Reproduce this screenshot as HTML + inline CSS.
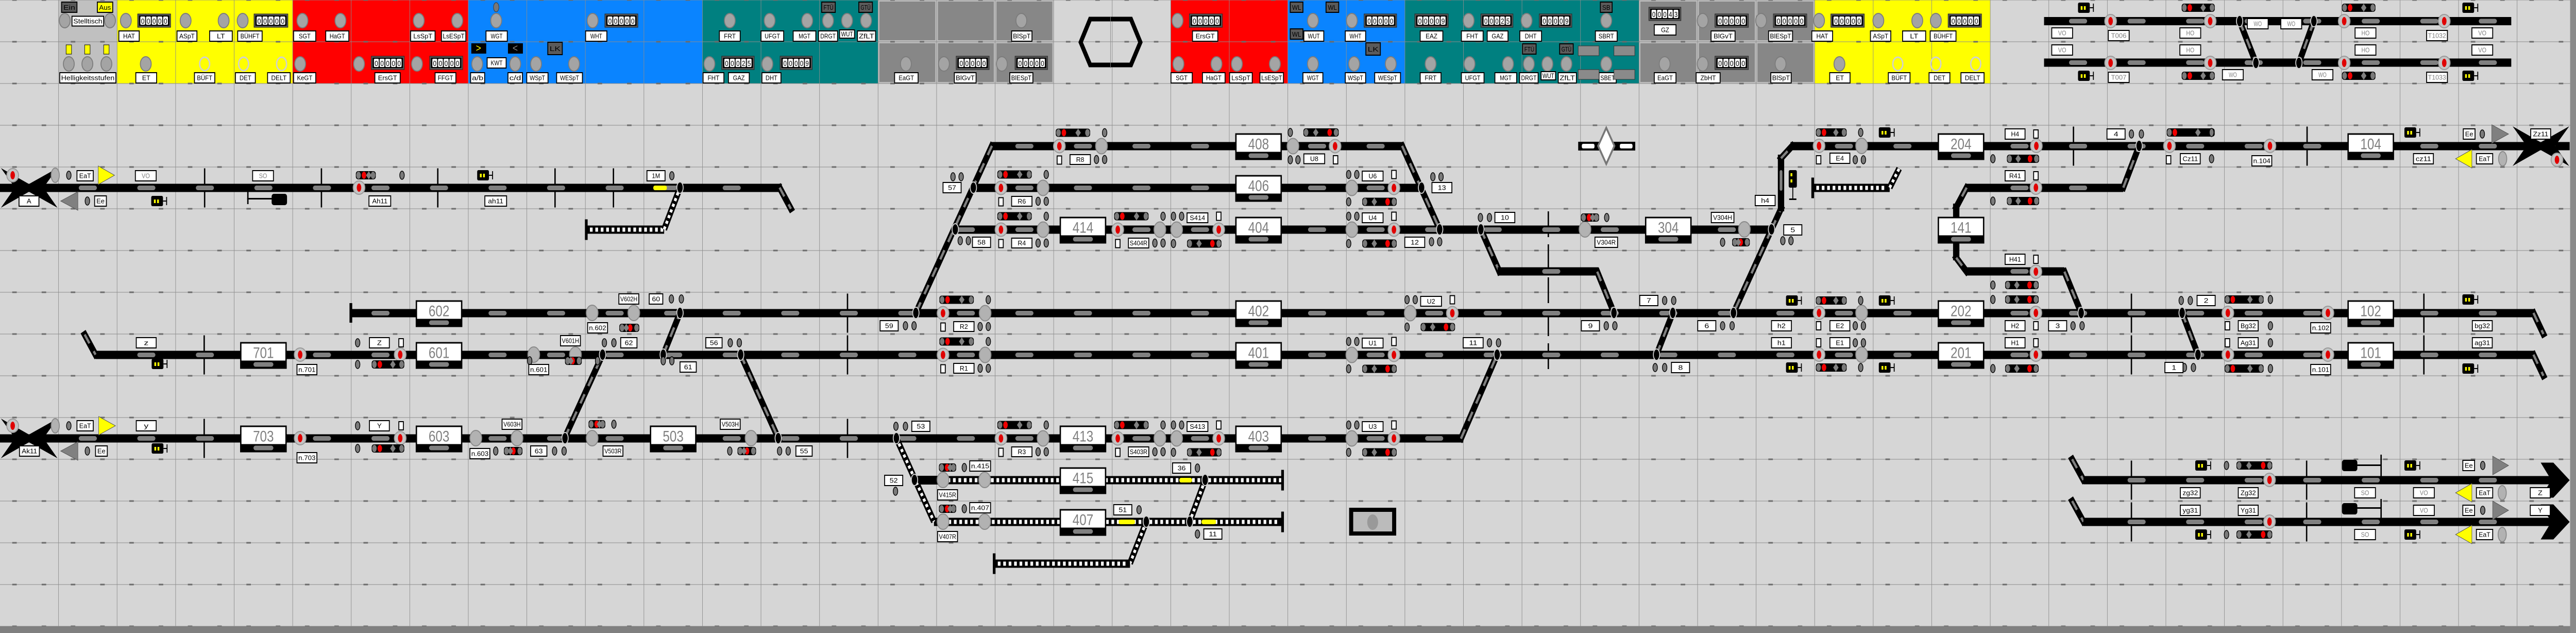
<!DOCTYPE html>
<html><head><meta charset="utf-8">
<style>html,body{margin:0;padding:0;background:#d6d6d6;width:100%;height:100%;overflow:hidden}svg{display:block;position:fixed;left:0;top:0;width:100vw;height:100vh}</style>
</head><body>
<svg id="s" xmlns="http://www.w3.org/2000/svg" viewBox="0 0 5690 1228" preserveAspectRatio="none" font-family="Liberation Sans, sans-serif"></svg>
<script>
const W=129.3,H=81,cx=c=>c*W+W/2,yc=r=>r*H+40.5;
let o=[];
const P=s=>o.push(s);
const R=(x,y,w,h,f,e='')=>P(`<rect x="${x}" y="${y}" width="${w}" height="${h}" fill="${f}" ${e}/>`);
const T=(x,y,t,sz,col,len,anchor='middle',fam='')=>P(`<text x="${x}" y="${y}" font-size="${sz}" fill="${col}" text-anchor="${anchor}" ${len?`textLength="${len}" lengthAdjust="spacingAndGlyphs"`:''} ${fam}>${t}</text>`);
R(0,0,5690,1228,'#d6d6d6');
const pan=[[1,1,'#c0c0c0'],[2,4,'#ffff00'],[5,7,'#ff0000'],[8,11,'#0a84ff'],[12,14,'#008080'],[20,21,'#ff0000'],[22,23,'#0a84ff'],[24,27,'#008080'],[31,33,'#ffff00']];
pan.forEach(p=>R(p[0]*W,0,(p[1]-p[0]+1)*W,162,p[2]));
[15,16,17,28,29,30].forEach(c=>{for(let r=0;r<2;r++){R(c*W,r*81,W,81,'#bdbdbd');R(c*W+3,r*81+3,W-6,75,'#878787');}});
for(let c=1;c<44;c++)R(c*W-0.5,0,1,1215,'#8c8c8c');
for(let r=0;r<=15;r++){R(0,r*H-0.5,5690,1,'#8c8c8c');for(let c=0;c<44;c++){R(c*W+27,r*H-1.5,10,3,'#6c6c6c');R(c*W+92,r*H-1.5,10,3,'#6c6c6c');}}
R(0,1215,5690,13,'#808080');R(5677,0,13,1228,'#8a8a8a');
const oval=(x,y,hol)=>P(hol?`<ellipse cx="${x}" cy="${y}" rx="11" ry="13" fill="none" stroke="#d0d0d0" stroke-width="3"/>`:`<ellipse cx="${x}" cy="${y}" rx="12" ry="14" fill="#a4a4a4" stroke="#7c7c7c" stroke-width="2"/>`);
const lb=(x,y,t,w=44,h=19,col='#000',fs=13)=>{R(x-w/2,y-h/2,w,h,'#fff','stroke="#000" stroke-width="2"');T(x,y+fs*0.36,t,fs,col,Math.min(w-6,t.length*8+2));};
const dk=(x,y,t,w=30,h=20,f='#5a5a5a',tc='#000')=>{R(x-w/2,y-h/2,w,h,f,'stroke="#000" stroke-width="2"');T(x,y+5,t,13,tc,w-8);};
const ctr=(x1,x2,y,t='00000')=>{R(x1,y-13,x2-x1,26,'#555','stroke="#222" stroke-width="1"');R(x1+3,y-10,x2-x1-6,20,'#000');const n=t.length,dw=(x2-x1-10)/n;for(let i=0;i<n;i++){R(x1+5+i*dw+1,y-8,dw-2,16,'#fff','rx="2"');T(x1+5+i*dw+dw/2,y+6,t[i],15,'#000',dw-5);}};
[143,243,278,410,494,536,668,752,925,1010,1096,1309,1612,1700,1783,1829,1871,1913,2256,2601,2900,2986,3244,3372,3548,3761,3890,4018,4149,4235,4276].forEach(x=>oval(x,40));
[152,193,235,322,663,793,921,1054,1138,1184,1268,1567,1695,2001,2085,2213,2603,2687,2732,2816,2900,2991,3072,3160,3246,3331,3377,3418,3460,3548,3677,3761,3933,4063].forEach(x=>oval(x,124));
[452,538,622,4192,4276,4364].forEach(x=>oval(x,124,1));
[[304,377],[561,636],[1336,1409],[2627,2700,'00000'],[3013,3085],[3125,3199,'00009'],[3271,3342,'00025'],[3400,3472,'00009'],[3788,3862],[3917,3991],[4044,4118],[4303,4377]].forEach(c=>ctr(c[0],c[1],40,c[2]||'00000'));
ctr(3642,3713,27,'00043');
[[820,893],[949,1022],[1594,1666,'00025'],[1723,1794,'00009'],[2112,2185],[2242,2314],[3788,3862]].forEach(c=>ctr(c[0],c[1],122,c[2]||'00000'));
lb(194,41,'Stelltisch',70,19);
[[285,'HAT',45],[413,'ASpT',44],[488,'LT',50],[552,'BÜHFT',54],[673,'SGT',49],[745,'HaGT',51],[934,'LsSpT',54],[1002,'LsESpT',54],[1097,'WGT',47],[1317,'WHT',47],[1612,'FRT',46],[1706,'UFGT',50],[1777,'MGT',50],[1829,'DRGT',42],[1914,'ZfLT',40],[2257,'BlSpT',45],[2662,'ErsGT',56],[2902,'WUT',44],[2994,'WHT',45],[3162,'EAZ',50],[3252,'FHT',48],[3308,'GAZ',46],[3381,'DHT',48],[3548,'SBRT',48],[3806,'BlGvT',53],[3933,'BlESpT',53],[4025,'HAT',46],[4154,'ASpT',45],[4228,'LT',51],[4292,'BÜHFT',57]].forEach(l=>lb(l[0],70,l[1],l[2],20));
lb(1871,66,'WUT',33,16);lb(3678,58,'GZ',48,20);
[[194,'Helligkeitsstufen',124],[323,'ET',46],[452,'BÜFT',45],[542,'DET',44],[616,'DELT',50],[673,'KeGT',49],[856,'ErsGT',56],[984,'FFGT',46],[1055,'a/b',31],[1138,'c/d',32],[1187,'WSpT',47],[1258,'WESpT',57],[1576,'FHT',46],[1632,'GAZ',46],[1704,'DHT',42],[2002,'EaGT',52],[2132,'BlGvT',48],[2256,'BlESpT',51],[2610,'SGT',47],[2681,'HaGT',50],[2741,'LsSpT',50],[2809,'LsESpT',52],[2900,'WGT',44],[2994,'WSpT',45],[3065,'WESpT',57],[3160,'FRT',46],[3253,'UFGT',50],[3326,'MGT',48],[3377,'DRGT',41],[3462,'ZfLT',40],[3678,'EaGT',48],[3773,'ZbHT',53],[3934,'BlSpT',45],[4064,'ET',45],[4195,'BÜFT',48],[4284,'DET',46],[4357,'DELT',51]].forEach(l=>lb(l[0],151,l[1],l[2],20));
lb(1097,122,'KWT',42,20);lb(3420,147,'WUT',32,16);lb(3551,151,'SBET',38,20);
dk(153,14,'Ein',34);dk(232,14,'Aus',34,20,'#ffff00');dk(1830,14,'FTÜ',30);dk(1912,14,'GTÜ',30);dk(3378,95,'FTÜ',30);dk(3460,95,'GTÜ',30);dk(1226,94,'LK',32,24);dk(3033,95,'LK',32,24);dk(3548,14,'SB',26);dk(2864,14,'WL',28);dk(2943,14,'WL',28);dk(2864,66,'WL',28);
R(1041,84,33,20,'#000');T(1057,100,'&gt;',20,'#ffff00');R(1122,84,33,20,'#000');T(1138,100,'&lt;',20,'#888');
[152,193,235].forEach(x=>R(x-6,87,12,18,'#ffff00','stroke="#000" stroke-width="1"'));
[[3486,89],[3565,89],[3486,135],[3565,135]].forEach(q=>R(q[0],q[1],46,19,'#8a8a8a','stroke="#333" stroke-width="1"'));
P(`<ellipse cx="1096" cy="14" rx="6" ry="9" fill="#777" stroke="#333"/>`);
P(`<polygon points="2408,37 2498,37 2519,82 2498,126 2408,126 2387,82" fill="none" stroke="#000" stroke-width="9"/>`);
P(`<line x1="2453" y1="32" x2="2453" y2="132" stroke="#888" stroke-width="1"/>`);
const sl=(x,y)=>R(x-20,y-4.5,40,9,'#808080','rx="4.5"');
const tr=(x1,x2,r,y)=>{y=y??yc(r);R(x1,y-8,x2-x1,16,'#000');for(let c=0;c<44;c++){const X=cx(c);if(X>x1+20&&X<x2-20)sl(X,y);}};
const dg=(x1,y1,x2,y2)=>{P(`<line x1="${x1}" y1="${y1}" x2="${x2}" y2="${y2}" stroke="#000" stroke-width="13" stroke-linecap="square"/>`);P(`<line x1="${x1}" y1="${y1}" x2="${x2}" y2="${y2}" stroke="#808080" stroke-width="5" stroke-dasharray="20 18"/>`);};
const ldg=(x1,y1,x2,y2)=>{P(`<line x1="${x1}" y1="${y1}" x2="${x2}" y2="${y2}" stroke="#000" stroke-width="13"/>`);P(`<line x1="${x1}" y1="${y1}" x2="${x2}" y2="${y2}" stroke="#fff" stroke-width="6" stroke-dasharray="6 6"/>`);};
const lad=(x1,x2,y,stop)=>{R(x1,y-8,x2-x1,16,'#000');for(let x=x1+8;x<x2-6;x+=12)R(x,y-4,6,8,'#fff');if(stop==='L')R(x1-3,y-20,6,40,'#000');if(stop==='R')R(x2-3,y-20,6,40,'#000');};
const sw=(x,y)=>P(`<ellipse cx="${x}" cy="${y}" rx="7" ry="11" fill="#000" stroke="#d0d0d0" stroke-width="2"/>`);
const mk=(x,r,dash)=>P(`<line x1="${x}" y1="${yc(r)-38}" x2="${x}" y2="${yc(r)+38}" stroke="#000" stroke-width="3" ${dash?'stroke-dasharray="30 12"':''}/>`);
[452,710,967,1226,1355].forEach(x=>mk(x,4));[[451,8],[451,10],[1872,7],[1872,8],[1872,10],[4580,3],[5096,3],[4708,7],[4708,8],[5354,7],[5354,8],[4708,11],[4708,12],[5095,11],[5095,12]].forEach(m=>mk(m[0],m[1]));
P(`<line x1="3420" y1="410" x2="3420" y2="730" stroke="#000" stroke-width="3" stroke-dasharray="50 14"/>`);
tr(0,1727,4);dg(1722,364,1747,405);
lad(1295,1467,445.5,'L');ldg(1467,445,1502,364);R(1443,360,30,9,'#ffff00','rx="4"');
tr(776,5600,7);R(772,588,6,38,'#000');dg(5596,607,5618,648);
tr(211,5600,8);dg(187,649,211,688);dg(5596,688,5618,729);
tr(0,3232,10);dg(3227,851,3307,688);
dg(1247,850,1331,688);dg(1465,688,1502,607);dg(1636,688,1719,850);
tr(2190,3100,3);dg(2191,283,2023,607);dg(3097,283,3180,445);
tr(2150,3145,4);tr(2110,3915,5);
dg(3271,445,3312,527);tr(3308,3530,6);dg(3528,527,3565,607);
dg(3913,445,3829,607);dg(3913,445,3934,405);R(3927,300,14,110,'#000');R(3931,330,6,40,'#808080','rx="3"');dg(3934,307,3959,283);tr(3955,5676,3);
tr(4344,4690,4);dg(4690,364,4725,283);dg(4344,364,4321,402);R(4314,395,14,110,'#000');dg(4321,500,4344,527);tr(4344,4560,6);dg(4560,527,4597,607);
dg(4820,607,4855,688);dg(3659,688,3695,607);
lad(4004,4174,364.5,'L');ldg(4174,364,4195,327);
R(3486,275,126,17,'#000');R(3494,279,28,9,'#fff','rx="3"');R(3578,279,28,9,'#fff','rx="3"');P(`<polygon points="3548,248 3566,283 3548,318 3530,283" fill="#fff" stroke="#777" stroke-width="4"/>`);
lad(2025,2833,931.5,'R');R(2020,923,55,17,'#000');lad(2063,2833,1012.5,'R');
ldg(1980,850,2063,1012);ldg(2662,931,2628,1012);ldg(2532,1012,2496,1093);lad(2196,2496,1093.5,'L');
R(2605,927,28,9,'#ffff00','rx="4"');R(2471,1008,36,9,'#ffff00','rx="4"');R(2654,1008,32,9,'#ffff00','rx="4"');
R(2980,985,104,54,'#000');R(2989,993,86,38,'#bbb');P(`<ellipse cx="3032" cy="1013" rx="12" ry="15" fill="#999"/>`);
dg(4577,891,4602,931);tr(4602,5625,11);dg(4577,972,4602,1012);tr(4602,5625,12);
[931.5,1012.5].forEach(y=>P(`<polygon points="5620,${y-8} 5630,${y-8} 5612,${y-34} 5640,${y-34} 5676,${y} 5640,${y+34} 5612,${y+34} 5630,${y+8} 5620,${y+8}" fill="#000"/>`));
tr(4515,5547,0,41);tr(4515,5547,1,121.5);dg(4947,41,4983,122);dg(5111,41,5078,122);
const xs=(x0,y0)=>{P(`<polygon points="${x0+2},${y0+2} ${x0+64},${y0+33} ${x0+127},${y0+2} ${x0+96},${y0+40} ${x0+127},${y0+79} ${x0+64},${y0+48} ${x0+2},${y0+79} ${x0+33},${y0+40}" fill="#000"/>`);};
xs(0,324);xs(0,810);xs(5548,243);
[[1502,364],[2150,364],[2110,445],[2023,607],[3140,364],[3180,445],[3271,445],[3307,688],[1331,688],[1465,688],[1502,607],[1636,688],[1248,850],[1719,850],[1980,850],[2020,931],[2662,931],[2628,1012],[2532,1012],[3565,607],[3695,607],[3829,607],[3659,688],[3913,445],[4725,283],[4597,607],[4820,607],[4855,688],[4947,41],[5111,41],[4983,122],[5078,122]].forEach(s=>sw(s[0],s[1]));
const bx=(c,r,t)=>{const x=cx(c)-51.5,y=yc(r)-25;R(x,y,103,52,'#000');R(x+3,y+3,97,33,'#fff');T(cx(c),y+31,t,30,'#808080',46);R(cx(c)-22,y+39,44,9,'#808080','rx="4.5"');};
[[21,3,'408'],[21,4,'406'],[21,5,'404'],[18,5,'414'],[21,7,'402'],[21,8,'401'],[18,10,'413'],[21,10,'403'],[18,11,'415'],[18,12,'407'],[7,7,'602'],[7,8,'601'],[4,8,'701'],[4,10,'703'],[7,10,'603'],[11,10,'503'],[28,5,'304'],[33,3,'204'],[33,5,'141'],[33,7,'202'],[33,8,'201'],[40,3,'104'],[40,7,'102'],[40,8,'101']].forEach(b=>bx(b[0],b[1],b[2]));
const red=(x,y)=>{P(`<circle cx="${x}" cy="${y}" r="13" fill="#c4c4c4" stroke="#9a9a9a" stroke-width="2"/>`);P(`<ellipse cx="${x}" cy="${y}" rx="5" ry="8" fill="#e00000"/>`);};
const gry=(x,y)=>P(`<ellipse cx="${x}" cy="${y}" rx="13" ry="15" fill="#b2b2b2" stroke="#8a8a8a" stroke-width="2"/>`);
const ov=(x,y)=>P(`<ellipse cx="${x}" cy="${y}" rx="5" ry="8" fill="#7a7a7a" stroke="#000" stroke-width="1.5"/>`);
const sq=(x,y)=>R(x-5,y-8,10,16,'#fff','stroke="#000" stroke-width="2"');
const pill=(x1,x2,y,rs)=>{R(x1,y-8,x2-x1,16,'#000','rx="5"');P(`<ellipse cx="${x1+6}" cy="${y}" rx="5" ry="7" fill="#7a7a7a"/><ellipse cx="${x2-6}" cy="${y}" rx="5" ry="7" fill="#7a7a7a"/>`);const rx=rs==='R'?x2-20:x1+18;P(`<ellipse cx="${rx}" cy="${y}" rx="5" ry="7" fill="#f00000"/>`);const dx=rs==='R'?x1+(x2-x1)*0.35:x1+(x2-x1)*0.65;P(`<polygon points="${dx},${y-8} ${dx+6},${y} ${dx},${y+8} ${dx-6},${y}" fill="#808080"/>`);};
const ic=(x,y)=>{R(x-16,y-10,26,20,'#000','rx="3"');R(x-10,y-3,4,7,'#ffff00');R(x-3,y-3,4,7,'#ffff00');R(x+10,y-1,8,2,'#000');R(x+17,y-8,2,16,'#000');};
const gR=(x,r,l)=>{const y=yc(r);pill(x-8,x+68,y-26,'L');ov(x+100,y-26);red(x,y);gry(x+93,y);sq(x,y+27);lb(x+46,y+26,l,45);ov(x+82,y+26);ov(x+100,y+26);};
const gU=(x,r,l)=>{const y=yc(r);ov(x-7,y-26);ov(x+11,y-26);lb(x+46,y-23,l,46);sq(x+93,y-26);gry(x,y);red(x+93,y);ov(x-7,y+27);pill(x+23,x+99,y+27,'R');};
gR(2340,3,'R8');gR(2211,4,'R6');gR(2211,5,'R4');gR(2083,7,'R2');gR(2083,8,'R1');gR(2211,10,'R3');gR(2469,5,'S404R');gR(2469,10,'S403R');
gU(2599,5,'S414');gU(2599,10,'S413');gU(2986,4,'U6');gU(2986,5,'U4');gU(3115,7,'U2');gU(2986,8,'U1');gU(2986,10,'U3');
gry(2856,283.5);red(2949,283.5);ov(2850,257);pill(2879,2957,257,'R');ov(2850,310);ov(2867,310);lb(2903,308,'U8',46);sq(2950,310);
[[793,364],[663,688],[884,688],[663,850],[884,850],[4498,283],[4792,283],[5014,283],[4018,283],[4497,364],[4497,527],[4497,607],[4921,607],[5142,607],[4497,688],[4921,688],[5142,688],[4018,607],[4018,688],[5013,931],[5013,1012],[4662,41],[4882,41],[5178,41],[5399,41],[4662,122],[4882,122],[5178,122],[5399,122],[28,340],[28,826],[5648,310]].forEach(s=>red(s[0],s[1]));
[[1308,607],[1400,607],[1179,688],[1271,688],[1051,850],[1142,850],[1308,850],[1659,850],[3501,445],[3853,445],[4112,283],[4112,607],[4112,688],[2083,931],[2175,931],[2083,1012],[2175,1012]].forEach(s=>gry(s[0],s[1]));
[[786,830,340],[821,893,707],[1248,1285,700,'R'],[1368,1412,636,'R'],[821,893,870],[1300,1337,823],[1113,1154,875,'R'],[1629,1670,875,'R'],[2074,2112,907],[2074,2112,987],[3492,3532,422],[3826,3865,470,'R'],[4011,4079,257],[4011,4079,583],[4011,4079,713],[4433,4504,308,'R'],[4433,4504,390,'R'],[4429,4503,553,'R'],[4429,4503,581,'R'],[4429,4503,715,'R'],[4786,4892,257],[4914,5000,581],[4914,5000,715],[4940,5019,903,'R'],[4940,5019,1037,'R'],[4819,4892,15],[5173,5247,15],[4819,4892,147],[5173,5247,147]].forEach(p=>pill(p[0],p[1],p[2],p[3]));
[[350,390],[1070,340],[351,706],[351,870],[3961,583],[3961,713],[4166,257],[4166,583],[4166,713],[5327,257],[5455,581],[5455,715],[4865,903],[5327,903],[4865,1037],[5327,1037],[4606,15],[4606,147],[5455,15],[5455,147]].forEach(i=>ic(i[0],i[1]));
R(3951,330,18,34,'#000','rx="3"');R(3955,336,4,6,'#ff0');R(3955,348,4,6,'#ff0');R(3959,364,2,22,'#000');R(3952,385,16,3,'#000');
[[888,340],[2105,343],[2123,343],[2121,467],[2139,467],[2000,632],[2019,632],[3165,343],[3183,343],[3162,469],[3180,469],[3270,422],[3290,422],[3549,422],[3938,467],[3956,467],[3805,470],[3677,583],[3697,583],[3548,632],[3567,632],[3805,632],[3826,632],[3656,713],[3677,713],[3290,665],[3310,665],[4098,310],[4116,310],[4110,257],[4110,583],[4110,713],[4098,632],[4116,632],[4098,665],[4116,665],[4402,308],[4402,390],[4402,553],[4402,581],[4402,715],[4708,260],[4730,260],[4885,308],[4885,257],[4579,632],[4599,632],[4818,583],[4838,583],[5015,581],[5015,632],[5015,665],[5015,715],[4825,713],[4845,713],[1483,580],[1505,580],[1335,665],[1356,665],[1613,665],[1633,665],[1465,700],[1484,700],[790,665],[790,707],[790,826],[790,870],[1356,823],[1095,875],[1225,875],[1246,875],[1612,875],[1722,875],[1741,875],[1979,827],[2000,827],[1978,953],[2130,907],[2130,987],[2645,908],[2516,989],[2645,1036],[1484,341],[152,340],[193,390],[152,826],[193,875],[5483,260],[4918,903],[4918,1037],[5484,903],[5484,990],[1320,700],[1170,700]].forEach(v=>ov(v[0],v[1]));
[[886,665],[886,826],[4497,260],[4497,341],[4497,503],[4497,632],[4497,665],[4790,310],[4017,310],[4017,632],[4017,665],[4920,632],[4920,665]].forEach(s=>sq(s[0],s[1]));
const tri=(x1,x2,y,dir,f)=>P(dir==='R'?`<polygon points="${x1},${y-18} ${x2},${y} ${x1},${y+18}" fill="${f}" stroke="#555"/>`:`<polygon points="${x2},${y-18} ${x1},${y} ${x2},${y+18}" fill="${f}" stroke="#555"/>`);
tri(217,253,340,'R','#ffff00');tri(134,172,390,'L','#808080');tri(218,255,826,'R','#ffff00');tri(134,172,875,'L','#808080');
tri(5504,5541,260,'R','#808080');tri(5424,5460,308,'L','#ffff00');tri(5506,5541,903,'R','#808080');tri(5424,5460,956,'L','#ffff00');tri(5506,5541,990,'R','#808080');tri(5424,5460,1037,'L','#ffff00');
[[5528,308],[5527,956],[5527,1037],[122,340],[122,826]].forEach(g=>P(`<ellipse cx="${g[0]}" cy="${g[1]}" rx="9" ry="14" fill="#b2b2b2" stroke="#8a8a8a" stroke-width="2"/>`));
R(546,372,3,24,'#000');R(546,384,56,3,'#000');R(600,376,34,22,'#000','rx="5"');
R(5258,882,3,45,'#000');R(5205,901,55,3,'#000');R(5173,892,34,22,'#000','rx="5"');
R(5258,968,3,40,'#000');R(5205,984,55,3,'#000');R(5173,976,34,22,'#000','rx="5"');
const L=[['A',64,390,44],['EaT',188,341,36],['Ee',222,390,26],['Ah11',839,390,48],['ah11',1095,390,48],['1M',1449,341,40],
['V602H',1389,580],['60',1449,580,30],['n.602',1320,636],['z',323,665],['Z',838,665],['V601H',1260,661],['62',1389,665,36],['56',1577,665,36],['n.701',678,717],['n.601',1190,717],['61',1520,712,36],
['Ak11',65,875],['EaT',188,826,36],['Ee',224,875,26],['y',323,826],['Y',838,826],['n.703',678,888],['V603H',1131,823],['n.603',1060,880],['63',1190,875,36],['V503R',1354,875],['V503H',1613,823],['55',1776,875,36],
['57',2103,364,40],['58',2168,470,40],['59',1964,632,40],['13',3185,364,44],['12',3125,470,44],['10',3324,422,44],['11',3254,665,44],['53',2034,827,40],['52',1974,932,40],['n.415',2165,904,46],['V415R',2093,960],['36',2610,908,40],['n.407',2165,985,46],['V407R',2093,1041],['51',2480,989,40],['11',2679,1036,40],
['V304R',3548,470,50],['V304H',3805,422,50],['5',3960,446,40],['h4',3899,389],['7',3642,583,40],['9',3513,632,40],['6',3770,632,40],['8',3712,713,40],['h2',3935,632],['h1',3935,665],['E4',4064,307],['E2',4064,632],['E1',4064,665],
['H4',4451,260],['R41',4451,341],['H41',4451,503],['H2',4451,632],['H1',4451,665],['3',4545,632,40],['2',4873,583,40],['1',4802,713,40],['4',4674,260,40],['Cz11',4838,308],['n.104',4996,312],['cz11',5353,308],['Ee',5454,260,26],['EaT',5488,308,36],['Zz11',5612,260],['Bg32',4966,632],['n.102',5126,636],['bg32',5483,632],['Ag31',4966,665],['n.101',5126,717],['ag31',5483,665],
['zg32',4838,956],['Zg32',4966,956],['EaT',5488,956,36],['Z',5611,956],['yg31',4838,990],['Yg31',4966,990],['Ee',5453,990,26],['Y',5611,990],['Ee',5453,903,26],['EaT',5488,1037,36]];
L.forEach(l=>lb(l[1],l[2],l[0],l[3]||44,20));
[['VO',322,341],['SO',581,341],['SO',5224,956],['VO',5354,956],['VO',5354,990],['SO',5224,1037],
['VO',4555,64],['T006',4680,69],['HO',4838,64],['WO',4987,46],['WO',5061,46],['HO',5225,64],['T1032',5383,69],['VO',5483,64],['VO',4555,97],['HO',4838,97],['HO',5225,97],['VO',5483,97],['T007',4680,150],['WO',4932,145],['WO',5130,145],['T1033',5383,150]].forEach(l=>lb(l[1],l[2],l[0],46,20,'#808080'));
document.getElementById('s').innerHTML=o.join('');
</script>
</body></html>
